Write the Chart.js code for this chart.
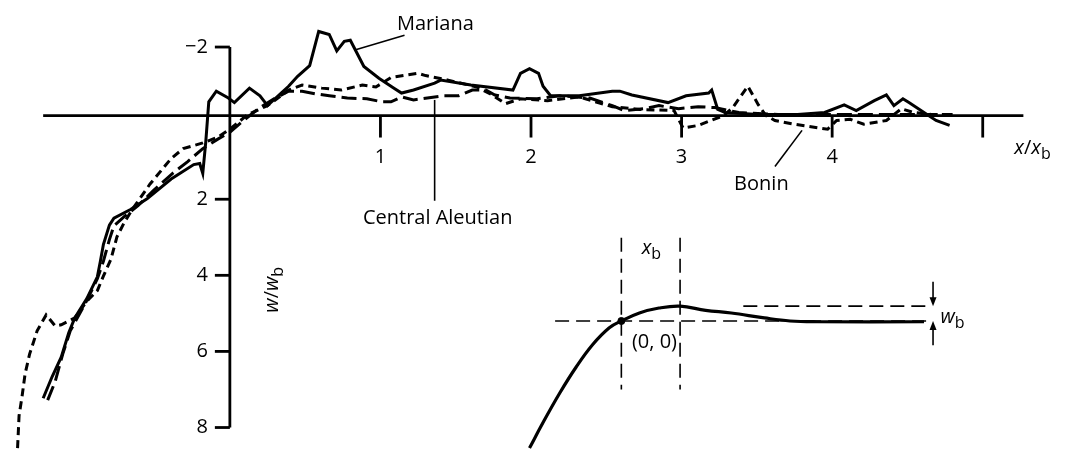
<!DOCTYPE html>
<html>
<head>
<meta charset="utf-8">
<script src="https://cdn.jsdelivr.net/npm/chart.js@4.4.1/dist/chart.umd.min.js"></script>
<style>
  html, body { margin: 0; padding: 0; background: #fff; }
  #grafico { display: block; }
</style>
</head>
<body>
<canvas id="grafico" width="1065" height="455"></canvas>
<script>
// perfis observados, x/xb e w/wb (w positivo para baixo)
const marianaX = [-1.24, -1.18, -1.12, -1.07, -1.03, -0.95, -0.88, -0.86, -0.84, -0.80, -0.77, -0.66, -0.55, -0.39, -0.24, -0.20, -0.18, -0.16, -0.14, -0.09, -0.01, 0.03, 0.13, 0.20, 0.25, 0.39, 0.45, 0.53, 0.59, 0.66, 0.71, 0.76, 0.80, 0.83, 0.89, 0.99, 1.09, 1.14, 1.22, 1.36, 1.40, 1.60, 1.88, 1.93, 1.99, 2.05, 2.08, 2.13, 2.32, 2.54, 2.59, 2.67, 2.91, 3.03, 3.18, 3.20, 3.24, 3.29, 3.51, 3.77, 3.95, 4.08, 4.16, 4.28, 4.36, 4.41, 4.47, 4.51, 4.61, 4.69, 4.78];
const marianaW = [7.23, 6.66, 6.15, 5.51, 5.12, 4.61, 4.04, 3.63, 3.19, 2.68, 2.50, 2.27, 1.99, 1.47, 1.09, 1.06, 1.32, 0.49, -0.56, -0.84, -0.66, -0.54, -0.92, -0.72, -0.46, -0.97, -1.23, -1.51, -2.41, -2.33, -1.90, -2.15, -2.18, -1.95, -1.49, -1.18, -0.92, -0.79, -0.87, -1.05, -1.13, -1.00, -0.87, -1.31, -1.43, -1.31, -0.97, -0.72, -0.72, -0.84, -0.84, -0.74, -0.54, -0.72, -0.79, -0.87, -0.36, -0.28, -0.23, -0.23, -0.28, -0.48, -0.33, -0.59, -0.74, -0.46, -0.64, -0.54, -0.28, -0.07, 0.06];

const aleutianX = [-1.21, -1.16, -1.11, -1.06, -1.02, -0.95, -0.88, -0.84, -0.80, -0.77, -0.70, -0.61, -0.51, -0.38, -0.28, -0.18, -0.08, 0.00, 0.09, 0.20, 0.28, 0.39, 0.48, 0.57, 0.66, 0.78, 0.91, 1.01, 1.07, 1.14, 1.22, 1.42, 1.52, 1.61, 1.70, 1.76, 1.86, 2.04, 2.19, 2.39, 2.54, 2.62, 2.75, 2.85, 2.98, 3.11, 3.22, 3.38, 3.64, 3.97, 4.23, 4.49, 4.80];
const aleutianW = [7.28, 6.79, 6.07, 5.46, 5.17, 4.66, 4.09, 3.63, 3.06, 2.70, 2.45, 2.17, 1.78, 1.32, 1.01, 0.67, 0.42, 0.24, -0.07, -0.41, -0.61, -0.84, -0.84, -0.77, -0.72, -0.66, -0.64, -0.56, -0.56, -0.69, -0.61, -0.72, -0.72, -0.87, -0.87, -0.74, -0.66, -0.64, -0.72, -0.66, -0.46, -0.33, -0.38, -0.46, -0.38, -0.43, -0.41, -0.28, -0.23, -0.23, -0.23, -0.23, -0.23];

const boninX = [-1.41, -1.40, -1.38, -1.36, -1.33, -1.28, -1.22, -1.16, -1.12, -1.03, -0.95, -0.88, -0.84, -0.79, -0.75, -0.70, -0.64, -0.53, -0.39, -0.31, -0.18, -0.08, 0.00, 0.12, 0.25, 0.39, 0.48, 0.61, 0.74, 0.88, 0.97, 1.07, 1.25, 1.30, 1.45, 1.64, 1.73, 1.83, 1.93, 2.11, 2.32, 2.54, 2.72, 2.95, 3.01, 3.11, 3.28, 3.34, 3.44, 3.51, 3.56, 3.62, 3.75, 3.97, 4.03, 4.12, 4.21, 4.36, 4.46, 4.54, 4.66, 4.80];
const boninW = [8.54, 7.69, 7.18, 6.59, 6.07, 5.46, 5.04, 5.33, 5.30, 5.12, 4.68, 4.40, 4.02, 3.58, 2.99, 2.60, 2.22, 1.60, 0.93, 0.67, 0.52, 0.37, 0.16, -0.23, -0.46, -0.87, -1.00, -0.92, -0.87, -1.00, -0.95, -1.20, -1.31, -1.25, -1.13, -0.95, -0.77, -0.51, -0.64, -0.59, -0.69, -0.43, -0.36, -0.33, 0.13, 0.06, -0.20, -0.41, -0.97, -0.48, -0.20, -0.07, 0.03, 0.16, -0.07, -0.10, 0.03, -0.07, -0.38, -0.28, -0.23, -0.23];

// detalhe: perfil teórico (mesmas unidades do gráfico principal)
const teoricoX = [1.99, 2.08, 2.19, 2.30, 2.41, 2.52, 2.60, 2.72, 2.85, 2.99, 3.16, 3.33, 3.55, 3.72, 3.90, 4.61];
const teoricoW = [8.54, 7.87, 7.10, 6.41, 5.82, 5.38, 5.20, 4.99, 4.86, 4.81, 4.92, 4.99, 5.12, 5.20, 5.22, 5.22];

// eixos
const xTicks = [1, 2, 3, 4, 5];
const xTickLabels = ["1", "2", "3", "4", ""];
const yTicks = [-2, 2, 4, 6, 8];
const yTickLabels = ["\u22122", "2", "4", "6", "8"];
const eixoXW = -0.2;

function pontos(xs, ws) {
  return xs.map((x, i) => ({ x: x, y: ws[i] }));
}

function linha(ctx, x1, y1, x2, y2) {
  ctx.beginPath();
  ctx.moveTo(x1, y1);
  ctx.lineTo(x2, y2);
  ctx.stroke();
}

function fonte(p, tam) {
  return (p[1] ? "italic " : "") + "500 " + (p[2] ? Math.round(tam * 0.78) : tam) + "px 'Open Sans'";
}

// partes: [texto, italico, subscrito]
function texto(ctx, partes, x, y, alinhar, tam) {
  tam = tam || 20;
  let largura = 0;
  partes.forEach(p => { ctx.font = fonte(p, tam); largura += ctx.measureText(p[0]).width; });
  let cx = x;
  if (alinhar === "center") cx = x - largura / 2;
  if (alinhar === "right") cx = x - largura;
  ctx.textAlign = "left";
  ctx.textBaseline = "middle";
  partes.forEach(p => {
    ctx.font = fonte(p, tam);
    ctx.fillText(p[0], cx, y + (p[2] ? tam * 0.3 : 0));
    cx += ctx.measureText(p[0]).width;
  });
}

function seta(ctx, x, yDe, yAte) {
  const dir = yAte > yDe ? 1 : -1;
  linha(ctx, x, yDe, x, yAte - dir * 6);
  ctx.beginPath();
  ctx.moveTo(x, yAte);
  ctx.lineTo(x - 3.5, yAte - dir * 9);
  ctx.lineTo(x + 3.5, yAte - dir * 9);
  ctx.closePath();
  ctx.fill();
}

const desenhos = {
  id: "desenhos",
  afterDatasetsDraw(chart) {
    const ctx = chart.ctx;
    const sx = chart.scales.x, sy = chart.scales.y;
    const px = v => sx.getPixelForValue(v);
    const py = v => sy.getPixelForValue(v);
    ctx.save();
    ctx.strokeStyle = "#000";
    ctx.fillStyle = "#000";
    ctx.lineCap = "butt";

    // eixo x
    ctx.lineWidth = 2.8;
    linha(ctx, px(-1.24), py(eixoXW), px(5.27), py(eixoXW));
    xTicks.forEach((t, i) => {
      linha(ctx, px(t), py(eixoXW), px(t), py(eixoXW) + 22);
      texto(ctx, [[xTickLabels[i]]], px(t), py(eixoXW) + 42, "center");
    });
    texto(ctx, [["x", true], ["/"], ["x", true], ["b", false, true]], px(5.21), py(eixoXW) + 33, "left");

    // eixo y
    linha(ctx, px(0), py(-2), px(0), py(8));
    yTicks.forEach((t, i) => {
      linha(ctx, px(0) - 15, py(t), px(0), py(t));
      texto(ctx, [[yTickLabels[i]]], px(0) - 22, py(t), "right");
    });
    ctx.save();
    ctx.translate(px(0.28), py(4.38));
    ctx.rotate(-Math.PI / 2);
    texto(ctx, [["w", true], ["/"], ["w", true], ["b", false, true]], 0, 0, "center");
    ctx.restore();

    // nomes das fossas
    ctx.lineWidth = 1.6;
    linha(ctx, px(0.83), py(-1.92), px(1.16), py(-2.31));
    texto(ctx, [["Mariana"]], px(1.11), py(-2.59), "left");
    linha(ctx, px(1.36), py(-0.61), px(1.36), py(2.04));
    texto(ctx, [["Central Aleutian"]], px(1.38), py(2.5), "center");
    linha(ctx, px(3.62), py(1.14), px(3.80), py(0.19));
    texto(ctx, [["Bonin"]], px(3.53), py(1.6), "center");

    // detalhe
    ctx.lineWidth = 1.6;
    seta(ctx, px(4.67), py(4.17), py(4.81));
    seta(ctx, px(4.67), py(5.84), py(5.20));
    texto(ctx, [["x", true], ["b", false, true]], px(2.80), py(3.3), "center");
    texto(ctx, [["(0, 0)"]], px(2.82), py(5.76), "center");
    texto(ctx, [["w", true], ["b", false, true]], px(4.72), py(5.1), "left");
    ctx.restore();
  }
};

const guia = { borderColor: "#000", borderWidth: 1.6, borderDash: [14, 7], pointRadius: 0, showLine: true };

new Chart(document.getElementById("grafico").getContext("2d"), {
  type: "scatter",
  data: {
    datasets: [
      { label: "Mariana", data: pontos(marianaX, marianaW), borderColor: "#000", borderWidth: 3, pointRadius: 0, showLine: true },
      { label: "Central Aleutian", data: pontos(aleutianX, aleutianW), borderColor: "#000", borderWidth: 3, borderDash: [15, 6], pointRadius: 0, showLine: true },
      { label: "Bonin", data: pontos(boninX, boninW), borderColor: "#000", borderWidth: 3, borderDash: [8, 5], pointRadius: 0, showLine: true },
      { label: "teorico", data: pontos(teoricoX, teoricoW), borderColor: "#000", borderWidth: 3.2, pointRadius: 0, showLine: true, tension: 0.4 },
      Object.assign({ label: "base", data: [{ x: 2.16, y: 5.20 }, { x: 4.66, y: 5.20 }] }, guia),
      Object.assign({ label: "topo", data: [{ x: 3.41, y: 4.81 }, { x: 4.66, y: 4.81 }] }, guia),
      Object.assign({ label: "origem", data: [{ x: 2.60, y: 3.01 }, { x: 2.60, y: 7.0 }] }, guia),
      Object.assign({ label: "xb", data: [{ x: 2.99, y: 3.01 }, { x: 2.99, y: 7.0 }] }, guia),
      { label: "ponto", data: [{ x: 2.60, y: 5.20 }], backgroundColor: "#000", borderColor: "#000", pointRadius: 3.5 }
    ]
  },
  options: {
    responsive: false,
    animation: false,
    devicePixelRatio: 1,
    clip: false,
    layout: { padding: 0 },
    plugins: {
      legend: { display: false },
      tooltip: { enabled: false },
      title: { display: false }
    },
    scales: {
      x: { type: "linear", min: -1.4934, max: 5.5132, display: false },
      y: { type: "linear", reverse: true, min: -3.105, max: 8.591, display: false }
    }
  },
  plugins: [desenhos]
});
</script>
</body>
</html>
